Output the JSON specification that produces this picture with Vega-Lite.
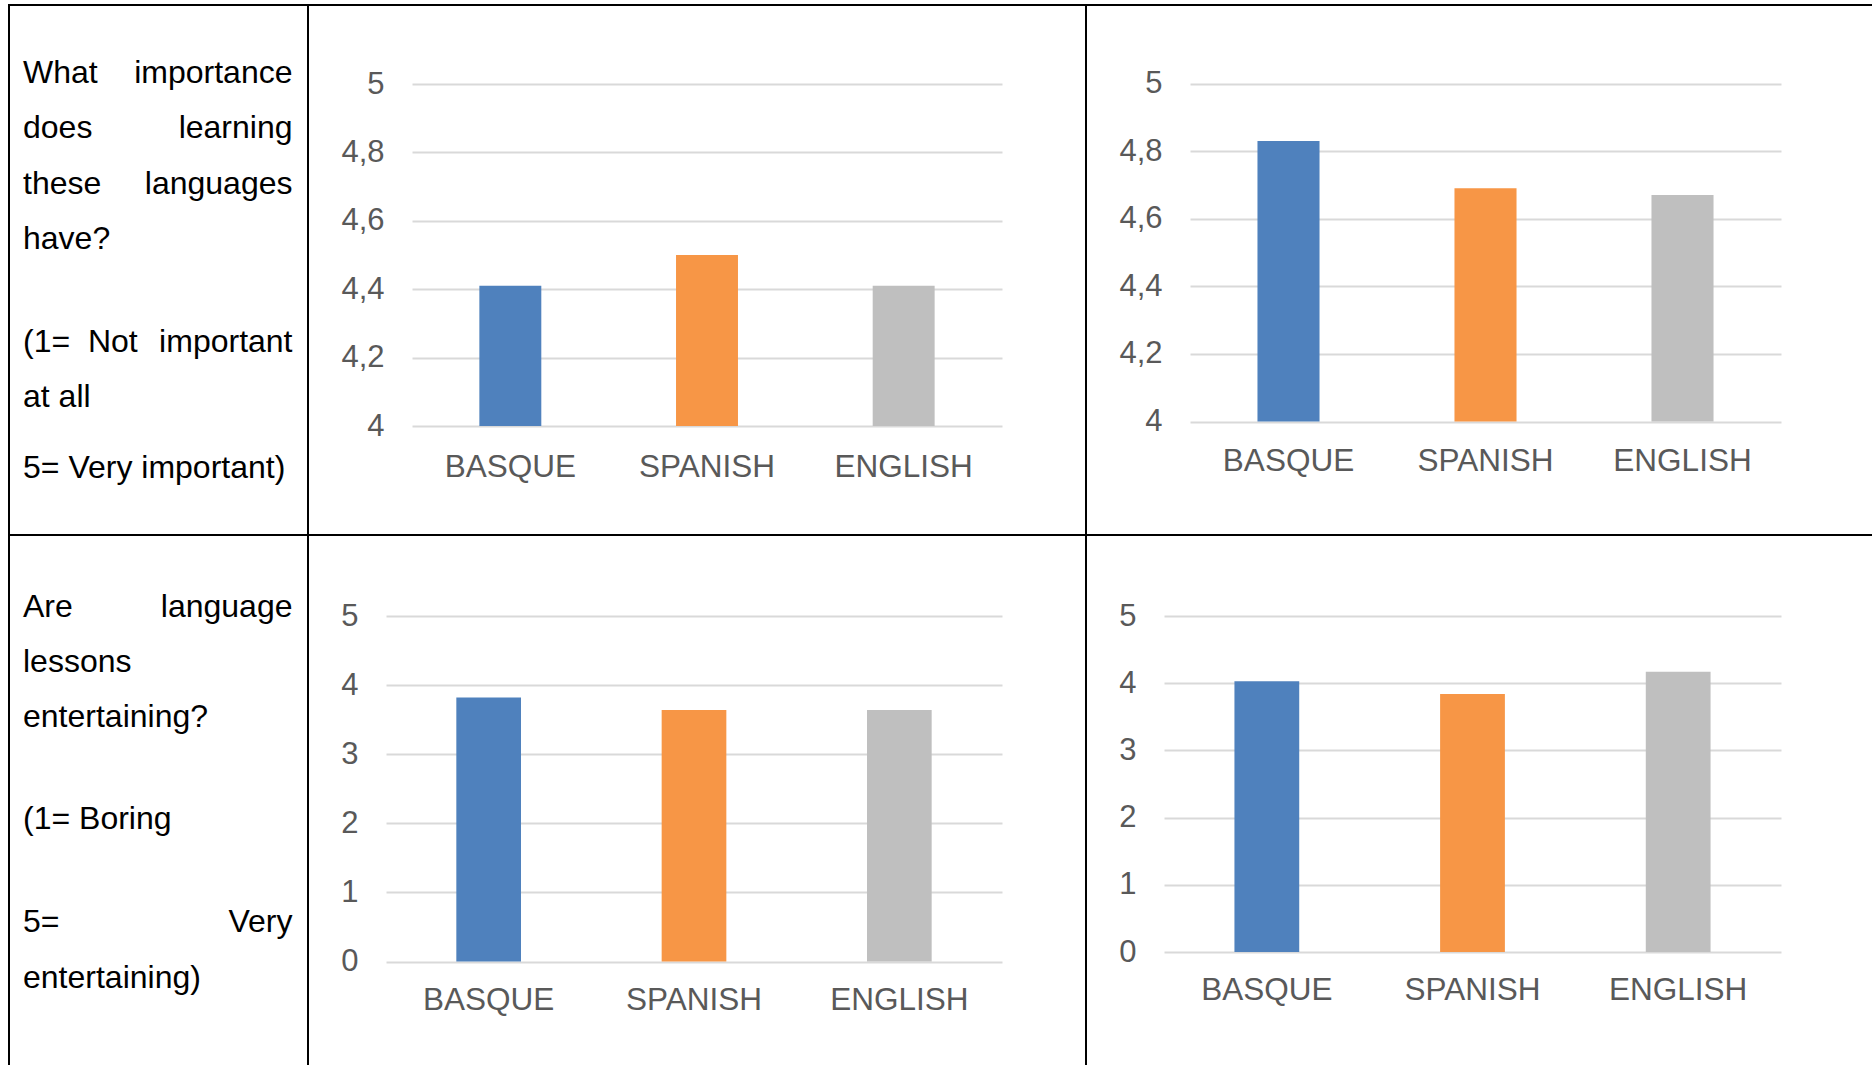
{
  "$schema": "https://vega.github.io/schema/vega-lite/v6.json",
  "background": "white",
  "padding": {"left": 8, "top": 4, "right": 0, "bottom": 0},
  "datasets": {
    "bars": [
      {"question": "importance", "group": "A", "language": "BASQUE", "value": 4.41},
      {"question": "importance", "group": "A", "language": "SPANISH", "value": 4.50},
      {"question": "importance", "group": "A", "language": "ENGLISH", "value": 4.41},
      {"question": "importance", "group": "B", "language": "BASQUE", "value": 4.83},
      {"question": "importance", "group": "B", "language": "SPANISH", "value": 4.69},
      {"question": "importance", "group": "B", "language": "ENGLISH", "value": 4.67},
      {"question": "entertaining", "group": "A", "language": "BASQUE", "value": 3.82},
      {"question": "entertaining", "group": "A", "language": "SPANISH", "value": 3.64},
      {"question": "entertaining", "group": "A", "language": "ENGLISH", "value": 3.64},
      {"question": "entertaining", "group": "B", "language": "BASQUE", "value": 4.03},
      {"question": "entertaining", "group": "B", "language": "SPANISH", "value": 3.84},
      {"question": "entertaining", "group": "B", "language": "ENGLISH", "value": 4.17}
    ],
    "text": [
      {"cell": "importance", "line": 1, "side": "left", "text": "What"},
      {"cell": "importance", "line": 1, "side": "right", "text": "importance"},
      {"cell": "importance", "line": 2, "side": "left", "text": "does"},
      {"cell": "importance", "line": 2, "side": "right", "text": "learning"},
      {"cell": "importance", "line": 3, "side": "left", "text": "these"},
      {"cell": "importance", "line": 3, "side": "right", "text": "languages"},
      {"cell": "importance", "line": 4, "side": "left", "text": "have?"},
      {"cell": "importance", "line": 5, "side": "left", "text": "(1=\u00a0\u00a0Not"},
      {"cell": "importance", "line": 5, "side": "right", "text": "important"},
      {"cell": "importance", "line": 6, "side": "left", "text": "at all"},
      {"cell": "importance", "line": 7, "side": "left", "text": "5= Very important)"},
      {"cell": "entertaining", "line": 1, "side": "left", "text": "Are"},
      {"cell": "entertaining", "line": 1, "side": "right", "text": "language"},
      {"cell": "entertaining", "line": 2, "side": "left", "text": "lessons"},
      {"cell": "entertaining", "line": 3, "side": "left", "text": "entertaining?"},
      {"cell": "entertaining", "line": 4, "side": "left", "text": "(1= Boring"},
      {"cell": "entertaining", "line": 5, "side": "left", "text": "5="},
      {"cell": "entertaining", "line": 5, "side": "right", "text": "Very"},
      {"cell": "entertaining", "line": 6, "side": "left", "text": "entertaining)"}
    ]
  },
  "columns": 3,
  "spacing": 0,
  "bounds": "flush",
  "align": "each",
  "concat": [
    {
      "width": 299, "height": 530,
      "data": {"name": "text"},
      "transform": [{"filter": "datum.cell === 'importance'"}],
      "layer": [
        {
          "transform": [{"filter": "datum.side === 'left'"}],
          "mark": {"type": "text", "align": "left", "baseline": "alphabetic", "font": "Liberation Sans", "fontSize": 32, "color": "#000000"},
          "encoding": {
            "x": {"field": "side", "type": "nominal", "scale": {"type": "point", "domain": ["left", "right"], "range": [14, 283.5], "padding": 0}, "axis": null},
            "y": {"field": "line", "type": "quantitative", "scale": {"domain": [1, 2, 3, 4, 5, 6, 7], "range": [78, 133, 189, 244, 347, 402, 473]}, "axis": null},
            "text": {"field": "text"}
          }
        },
        {
          "transform": [{"filter": "datum.side === 'right'"}],
          "mark": {"type": "text", "align": "right", "baseline": "alphabetic", "font": "Liberation Sans", "fontSize": 32, "color": "#000000"},
          "encoding": {
            "x": {"field": "side", "type": "nominal", "scale": {"type": "point", "domain": ["left", "right"], "range": [14, 283.5], "padding": 0}, "axis": null},
            "y": {"field": "line", "type": "quantitative", "scale": {"domain": [1, 2, 3, 4, 5, 6, 7], "range": [78, 133, 189, 244, 347, 402, 473]}, "axis": null},
            "text": {"field": "text"}
          }
        }
      ]
    },
    {
      "width": 778, "height": 530,
      "data": {"name": "bars"},
      "transform": [{"filter": "datum.question === 'importance' && datum.group === 'A'"}],
      "mark": {"type": "bar"},
      "encoding": {
        "x": {"field": "language", "type": "nominal", "sort": ["BASQUE", "SPANISH", "ENGLISH"],
              "scale": {"range": [104, 694], "paddingInner": 0.685, "paddingOuter": 0.3425},
              "axis": {"orient": "bottom", "offset": -109, "title": null, "domain": false, "ticks": false, "tickSize": 0, "labelPadding": 25, "labelAngle": 0, "labelFontSize": 31.5, "grid": false}},
        "y": {"field": "value", "type": "quantitative",
              "scale": {"domain": [4, 5], "range": [421, 79], "nice": false, "zero": false},
              "axis": {"values": [4, 4.2, 4.4, 4.6, 4.8, 5], "offset": -104, "title": null, "domain": false, "ticks": false, "tickSize": 0, "labelPadding": 28, "labelFontSize": 31, "grid": true, "labelExpr": "replace(format(datum.value, datum.value % 1 === 0 ? 'd' : '.1f'), '.', ',')"}},
        "y2": {"datum": 4},
        "color": {"field": "language", "type": "nominal", "scale": {"domain": ["BASQUE", "SPANISH", "ENGLISH"], "range": ["#4F81BD", "#F79646", "#BFBFBF"]}, "legend": null}
      }
    },
    {
      "width": 792, "height": 530,
      "data": {"name": "bars"},
      "transform": [{"filter": "datum.question === 'importance' && datum.group === 'B'"}],
      "mark": {"type": "bar"},
      "encoding": {
        "x": {"field": "language", "type": "nominal", "sort": ["BASQUE", "SPANISH", "ENGLISH"],
              "scale": {"range": [104, 695], "paddingInner": 0.685, "paddingOuter": 0.3425},
              "axis": {"orient": "bottom", "offset": -113.5, "title": null, "domain": false, "ticks": false, "tickSize": 0, "labelPadding": 23.5, "labelAngle": 0, "labelFontSize": 31.5, "grid": false}},
        "y": {"field": "value", "type": "quantitative",
              "scale": {"domain": [4, 5], "range": [416.5, 78.6], "nice": false, "zero": false},
              "axis": {"values": [4, 4.2, 4.4, 4.6, 4.8, 5], "offset": -104, "title": null, "domain": false, "ticks": false, "tickSize": 0, "labelPadding": 28, "labelFontSize": 31, "grid": true, "labelExpr": "replace(format(datum.value, datum.value % 1 === 0 ? 'd' : '.1f'), '.', ',')"}},
        "y2": {"datum": 4},
        "color": {"field": "language", "type": "nominal", "scale": {"domain": ["BASQUE", "SPANISH", "ENGLISH"], "range": ["#4F81BD", "#F79646", "#BFBFBF"]}, "legend": null}
      }
    },
    {
      "width": 299, "height": 536,
      "data": {"name": "text"},
      "transform": [{"filter": "datum.cell === 'entertaining'"}],
      "layer": [
        {
          "transform": [{"filter": "datum.side === 'left'"}],
          "mark": {"type": "text", "align": "left", "baseline": "alphabetic", "font": "Liberation Sans", "fontSize": 32, "color": "#000000"},
          "encoding": {
            "x": {"field": "side", "type": "nominal", "scale": {"type": "point", "domain": ["left", "right"], "range": [14, 283.5], "padding": 0}, "axis": null},
            "y": {"field": "line", "type": "quantitative", "scale": {"domain": [1, 2, 3, 4, 5, 6], "range": [82, 137, 192, 294, 397, 453]}, "axis": null},
            "text": {"field": "text"}
          }
        },
        {
          "transform": [{"filter": "datum.side === 'right'"}],
          "mark": {"type": "text", "align": "right", "baseline": "alphabetic", "font": "Liberation Sans", "fontSize": 32, "color": "#000000"},
          "encoding": {
            "x": {"field": "side", "type": "nominal", "scale": {"type": "point", "domain": ["left", "right"], "range": [14, 283.5], "padding": 0}, "axis": null},
            "y": {"field": "line", "type": "quantitative", "scale": {"domain": [1, 2, 3, 4, 5, 6], "range": [82, 137, 192, 294, 397, 453]}, "axis": null},
            "text": {"field": "text"}
          }
        }
      ]
    },
    {
      "width": 778, "height": 536,
      "data": {"name": "bars"},
      "transform": [{"filter": "datum.question === 'entertaining' && datum.group === 'A'"}],
      "mark": {"type": "bar"},
      "encoding": {
        "x": {"field": "language", "type": "nominal", "sort": ["BASQUE", "SPANISH", "ENGLISH"],
              "scale": {"range": [78, 694], "paddingInner": 0.685, "paddingOuter": 0.3425},
              "axis": {"orient": "bottom", "offset": -109.5, "title": null, "domain": false, "ticks": false, "tickSize": 0, "labelPadding": 23, "labelAngle": 0, "labelFontSize": 31.5, "grid": false}},
        "y": {"field": "value", "type": "quantitative",
              "scale": {"domain": [0, 5], "range": [426.5, 81], "nice": false},
              "axis": {"values": [0, 1, 2, 3, 4, 5], "offset": -78, "title": null, "domain": false, "ticks": false, "tickSize": 0, "labelPadding": 28, "labelFontSize": 31, "grid": true}},
        "y2": {"datum": 0},
        "color": {"field": "language", "type": "nominal", "scale": {"domain": ["BASQUE", "SPANISH", "ENGLISH"], "range": ["#4F81BD", "#F79646", "#BFBFBF"]}, "legend": null}
      }
    },
    {
      "width": 792, "height": 536,
      "data": {"name": "bars"},
      "transform": [{"filter": "datum.question === 'entertaining' && datum.group === 'B'"}],
      "mark": {"type": "bar"},
      "encoding": {
        "x": {"field": "language", "type": "nominal", "sort": ["BASQUE", "SPANISH", "ENGLISH"],
              "scale": {"range": [78, 695], "paddingInner": 0.685, "paddingOuter": 0.3425},
              "axis": {"orient": "bottom", "offset": -119, "title": null, "domain": false, "ticks": false, "tickSize": 0, "labelPadding": 22.5, "labelAngle": 0, "labelFontSize": 31.5, "grid": false}},
        "y": {"field": "value", "type": "quantitative",
              "scale": {"domain": [0, 5], "range": [417, 81], "nice": false},
              "axis": {"values": [0, 1, 2, 3, 4, 5], "offset": -78, "title": null, "domain": false, "ticks": false, "tickSize": 0, "labelPadding": 28, "labelFontSize": 31, "grid": true}},
        "y2": {"datum": 0},
        "color": {"field": "language", "type": "nominal", "scale": {"domain": ["BASQUE", "SPANISH", "ENGLISH"], "range": ["#4F81BD", "#F79646", "#BFBFBF"]}, "legend": null}
      }
    }
  ],
  "resolve": {"scale": {"x": "independent", "y": "independent", "color": "independent"}},
  "config": {
    "view": {"stroke": "#000000", "strokeWidth": 2},
    "font": "Liberation Sans",
    "axis": {"labelFont": "Liberation Sans", "labelColor": "#595959", "gridColor": "#D9D9D9", "gridWidth": 2, "labelOverlap": false}
  }
}
